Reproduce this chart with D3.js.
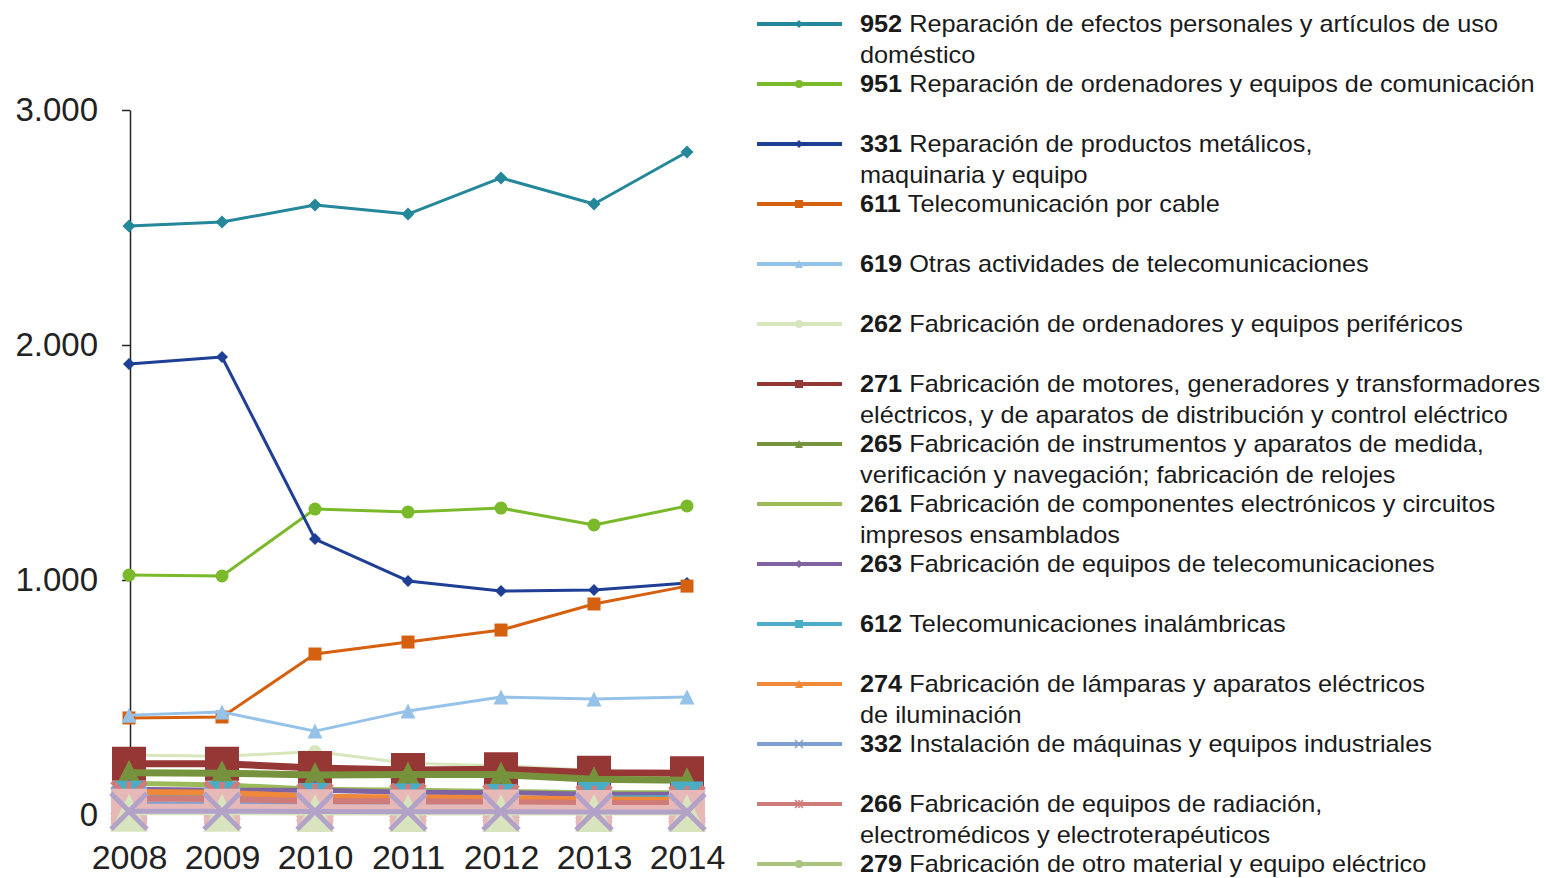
<!DOCTYPE html>
<html>
<head>
<meta charset="utf-8">
<script src="https://cdn.jsdelivr.net/npm/d3@7"></script>
<style>
  body { margin: 0; background: #fff; }
  svg { display: block; font-family: 'Liberation Sans', Arial, sans-serif; }
</style>
</head>
<body>
<div class="canvas"></div>
<script>
// data
const years = ['2008', '2009', '2010', '2011', '2012', '2013', '2014'];
const yTicks = [0, 1000, 2000, 3000];

const codes = ['952', '951', '331', '611', '619', '262', '271', '265', '261', '263', '612', '274', '332', '266', '279'];
const labels = [
	['Reparación de efectos personales y artículos de uso', 'doméstico'],
	['Reparación de ordenadores y equipos de comunicación'],
	['Reparación de productos metálicos,', 'maquinaria y equipo'],
	['Telecomunicación por cable'],
	['Otras actividades de  telecomunicaciones'],
	['Fabricación de ordenadores y equipos  periféricos'],
	['Fabricación de motores, generadores y transformadores', 'eléctricos, y de aparatos de distribución y control eléctrico'],
	['Fabricación de instrumentos y aparatos de medida,', 'verificación y navegación; fabricación de relojes'],
	['Fabricación de componentes electrónicos y circuitos', 'impresos ensamblados'],
	['Fabricación de equipos de telecomunicaciones'],
	['Telecomunicaciones inalámbricas'],
	['Fabricación de lámparas y aparatos eléctricos', 'de iluminación'],
	['Instalación de máquinas y equipos industriales'],
	['Fabricación de equipos de radiación,', 'electromédicos y electroterapéuticos'],
	['Fabricación de otro material y equipo eléctrico']
];

const s952 = [2506, 2523, 2596, 2557, 2711, 2600, 2821];
const s951 = [1021, 1017, 1302, 1289, 1306, 1234, 1315];
const s331 = [1919, 1949, 1174, 996, 953, 957, 987];
const s611 = [413, 417, 685, 736, 787, 898, 974];
const s619 = [425, 438, 357, 443, 502, 494, 502];
const s262 = [255, 250, 270, 220, 210, 190, 175];
const s271 = [218, 218, 200, 192, 195, 180, 178];
const s265 = [180, 178, 170, 172, 172, 152, 148];
const s261 = [135, 128, 110, 105, 100, 95, 95];
const s263 = [110, 105, 105, 97, 95, 88, 88];
const s612 = [78, 76, 68, 66, 64, 72, 74];
const s274 = [98, 95, 78, 75, 72, 66, 64];
const s332 = [50, 48, 42, 40, 40, 38, 38];
const s266 = [70, 68, 60, 58, 55, 52, 50];
const s279 = [30, 30, 28, 25, 25, 22, 22];
// series whose legend entries fall below the visible area
const sExtraA = [35, 35, 33, 32, 32, 30, 30];
const sExtraB = [10, 10, 8, 8, 8, 8, 8];
const sExtraC = [16, 16, 15, 14, 14, 13, 13];

const values = [s952, s951, s331, s611, s619, s262, s271, s265, s261, s263, s612, s274, s332, s266, s279, sExtraA, sExtraB, sExtraC];

// styles
const colors = ['#24879a', '#7ab92a', '#1f3f95', '#d5600f', '#95c2e9', '#d7e6bd', '#953735', '#76923c', '#9bbb59', '#8064a2', '#4bacc6', '#f0883a', '#7f9fcf', '#cf7b79', '#a9c47f', '#e6b9b8', '#d7e4bd', '#b3a2c7'];
const shapes = ['diamond', 'circle', 'diamond', 'square', 'triangle', 'circle', 'square', 'triangle', 'none', 'diamond', 'square', 'triangle', 'x', 'asterisk', 'circle', 'square', 'triangle', 'x'];
const markerSizes = [13, 13, 12, 13, 15, 13, 34, 26, 0, 20, 32, 18, 34, 34, 30, 36, 38, 36];
const lineWidths = [3, 3, 3, 3, 3, 3, 7, 7, 5, 5, 5, 6, 4, 6, 5, 6, 5, 5];

const width = 1546, height = 878;

const svg = d3.select('.canvas')
	.append('svg')
	.attr('width', width)
	.attr('height', height);

const x = d3.scalePoint()
	.domain(years)
	.range([129, 687]);

const y = d3.scaleLinear()
	.domain([0, 3000])
	.range([815, 110]);

// marker path centred at 0,0
const markerPath = (shape, s) => {
	const h = s / 2;
	if (shape === 'diamond') return `M0,${-h}L${h},0L0,${h}L${-h},0Z`;
	if (shape === 'square') return `M${-h},${-h}H${h}V${h}H${-h}Z`;
	if (shape === 'triangle') return `M0,${-h}L${h},${h}L${-h},${h}Z`;
	if (shape === 'circle') return `M${-h},0A${h},${h} 0 1,0 ${h},0A${h},${h} 0 1,0 ${-h},0Z`;
	if (shape === 'x') return `M${-h},${-h}L${h},${h}M${h},${-h}L${-h},${h}`;
	if (shape === 'asterisk') return `M${-h},${-h}L${h},${h}M${h},${-h}L${-h},${h}M0,${-h}V${h}`;
	return '';
};
const isStroke = shape => shape === 'x' || shape === 'asterisk';

// axes
const yAxis = d3.axisLeft(y)
	.tickValues(yTicks)
	.tickSize(8)
	.tickSizeOuter(0)
	.tickPadding(24)
	.tickFormat(d => d3.format(',')(d).replace(/,/g, '.'));

const yAxisGroup = svg.append('g')
	.attr('transform', 'translate(130, 0)')
	.call(yAxis);
yAxisGroup.select('.domain').attr('stroke', '#222').attr('stroke-width', 1.5);
yAxisGroup.selectAll('.tick line').attr('stroke', '#222').attr('stroke-width', 1.5);
yAxisGroup.selectAll('text').attr('font-size', 33).attr('fill', '#222').attr('font-family', null);

const xAxisGroup = svg.append('g')
	.attr('transform', 'translate(0, 815)')
	.call(d3.axisBottom(x).tickSize(0).tickPadding(30));
xAxisGroup.select('.domain').remove();
xAxisGroup.selectAll('text').attr('font-size', 34).attr('fill', '#222').attr('font-family', null);

// lines and markers, series drawn in order
const line = d3.line()
	.x((d, i) => x(years[i]))
	.y(d => y(d));

values.forEach((vals, k) => {
	const g = svg.append('g');
	g.append('path')
		.attr('d', line(vals))
		.attr('fill', 'none')
		.attr('stroke', colors[k])
		.attr('stroke-width', lineWidths[k])
		.attr('stroke-linejoin', 'round');
	if (shapes[k] === 'none') return;
	g.selectAll('path.mk')
		.data(vals)
		.enter()
		.append('path')
		.attr('class', 'mk')
		.attr('transform', (d, i) => `translate(${x(years[i])}, ${y(d)})`)
		.attr('d', markerPath(shapes[k], markerSizes[k]))
		.attr('fill', isStroke(shapes[k]) ? 'none' : colors[k])
		.attr('stroke', isStroke(shapes[k]) ? colors[k] : 'none')
		.attr('stroke-width', isStroke(shapes[k]) ? 5 : 0);
});

// legend
const legend = svg.append('g');
codes.forEach((code, k) => {
	const ly = 24 + k * 60;
	const item = legend.append('g').attr('transform', `translate(0, ${ly})`);
	item.append('line')
		.attr('x1', 757).attr('x2', 842)
		.attr('stroke', colors[k])
		.attr('stroke-width', 4);
	if (shapes[k] !== 'none') {
		item.append('path')
			.attr('transform', 'translate(799, 0)')
			.attr('d', markerPath(shapes[k], 8))
			.attr('fill', isStroke(shapes[k]) ? 'none' : colors[k])
			.attr('stroke', isStroke(shapes[k]) ? colors[k] : 'none')
			.attr('stroke-width', 1.5);
	}
	labels[k].forEach((txt, j) => {
		const t = item.append('text')
			.attr('transform', `translate(860, ${8 + j * 31}) scale(1.1, 1)`)
			.attr('font-size', 23)
			.attr('fill', '#1a1a1a');
		if (j === 0) {
			t.append('tspan').attr('font-weight', 'bold').text(code + ' ');
		}
		t.append('tspan').text(txt);
	});
});
</script>
</body>
</html>
